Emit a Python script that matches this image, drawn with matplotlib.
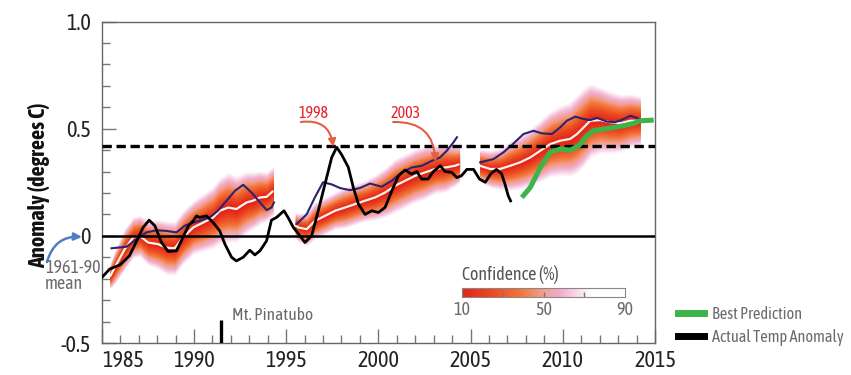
import numpy as np
import matplotlib
matplotlib.use("Agg")
import matplotlib.pyplot as plt
from matplotlib.colors import LinearSegmentedColormap, Normalize
from matplotlib.lines import Line2D

plt.rcParams["font.family"] = ["Asap Condensed", "Liberation Sans", "DejaVu Sans"]

# Observed global temperature anomaly (degrees C, vs 1961-90 mean)
obs_year = [1985.0, 1985.43, 1986.0, 1986.5, 1986.9, 1987.24, 1987.57, 1987.88, 1988.24, 1988.6,
            1989.05, 1989.4, 1989.7, 1989.96, 1990.14, 1990.3, 1990.68, 1991.04, 1991.4, 1991.68,
            1992.04, 1992.3, 1992.67, 1993.03, 1993.3, 1993.58, 1993.94, 1994.2, 1994.48, 1994.88,
            1995.1, 1995.39, 1995.75, 1996.02, 1996.38, 1996.74, 1997.1, 1997.47, 1997.74, 1998.0,
            1998.37, 1998.64, 1998.92, 1999.28, 1999.64, 2000.0, 2000.36, 2000.73, 2001.09, 2001.45,
            2001.8, 2002.08, 2002.35, 2002.7, 2002.98, 2003.35, 2003.62, 2003.98, 2004.25, 2004.5,
            2004.8, 2005.16, 2005.48, 2005.8, 2006.1, 2006.4, 2006.68, 2006.86, 2007.04, 2007.17]
obs_anom = [-0.195, -0.155, -0.135, -0.093, -0.023, 0.039, 0.073, 0.047, -0.031, -0.073,
            -0.07, -0.008, 0.047, 0.07, 0.093, 0.086, 0.093, 0.062, 0.023, -0.039,
            -0.10, -0.117, -0.10, -0.067, -0.089, -0.07, -0.023, 0.073, 0.086, 0.117,
            0.086, 0.039, 0.0, -0.031, 0.0, 0.117, 0.24, 0.366, 0.413, 0.38,
            0.32, 0.226, 0.148, 0.10, 0.117, 0.109, 0.132, 0.21, 0.28, 0.307,
            0.288, 0.30, 0.265, 0.265, 0.30, 0.327, 0.30, 0.296, 0.272, 0.28,
            0.31, 0.31, 0.265, 0.25, 0.29, 0.31, 0.29, 0.243, 0.187, 0.163]

# Hindcast runs without observed initial state (dark blue)
run1_year = [1985.53, 1986.34, 1986.88, 1987.42, 1987.97, 1988.5, 1989.05, 1989.5, 1989.96, 1990.3,
             1990.86, 1991.3, 1991.77, 1992.22, 1992.67, 1993.12, 1993.58, 1993.94, 1994.2, 1994.34]
run1_anom = [-0.058, -0.051, -0.016, 0.016, 0.026, 0.023, 0.016, 0.047, 0.062, 0.07,
             0.086, 0.117, 0.164, 0.21, 0.238, 0.202, 0.156, 0.12, 0.132, 0.156]
run2_year = [1995.57, 1996.11, 1996.56, 1997.0, 1997.47, 1997.92, 1998.46, 1999.0, 1999.55, 2000.18,
             2000.73, 2001.27, 2001.81, 2002.36, 2002.9, 2003.35, 2003.71, 2004.07, 2004.26]
run2_anom = [0.055, 0.10, 0.18, 0.25, 0.24, 0.223, 0.213, 0.223, 0.244, 0.229,
             0.257, 0.296, 0.319, 0.327, 0.35, 0.366, 0.397, 0.436, 0.46]
run3_year = [2005.52, 2006.24, 2006.79, 2007.33, 2007.87, 2008.41, 2008.87, 2009.41, 2009.86, 2010.22,
             2010.68, 2011.13, 2011.49, 2011.86, 2012.4, 2012.85, 2013.3, 2013.66, 2014.03, 2014.2]
run3_anom = [0.343, 0.358, 0.39, 0.431, 0.475, 0.49, 0.478, 0.475, 0.506, 0.537,
             0.556, 0.545, 0.54, 0.55, 0.533, 0.53, 0.545, 0.56, 0.55, 0.54]

# Initialised forecast ensembles: median and half-width of the spread
ens1_year = [1985.45, 1985.7, 1986.25, 1986.7, 1987.06, 1987.51, 1988.06, 1988.5, 1988.96, 1989.4,
             1989.96, 1990.5, 1991.04, 1991.4, 1991.86, 1992.3, 1992.86, 1993.2, 1993.58, 1993.94, 1994.3]
ens1_med = [-0.19, -0.148, -0.062, -0.008, 0.0, -0.031, -0.039, -0.055, -0.058, -0.008,
            0.039, 0.062, 0.086, 0.117, 0.132, 0.125, 0.156, 0.164, 0.179, 0.182, 0.21]
ens1_spread = [0.06, 0.08, 0.10, 0.10, 0.10, 0.11, 0.12, 0.13, 0.13, 0.13,
               0.13, 0.14, 0.15, 0.16, 0.17, 0.16, 0.15, 0.14, 0.13, 0.12, 0.12]
ens2_year = [1995.5, 1995.66, 1996.11, 1996.56, 1997.1, 1997.65, 1998.19, 1998.73, 1999.28, 1999.82,
             2000.36, 2000.91, 2001.45, 2001.99, 2002.53, 2003.08, 2003.62, 2004.16, 2004.4]
ens2_med = [0.05, 0.039, 0.031, 0.07, 0.093, 0.117, 0.132, 0.148, 0.164, 0.179,
            0.202, 0.234, 0.257, 0.28, 0.296, 0.312, 0.319, 0.327, 0.335]
ens2_spread = [0.06, 0.07, 0.08, 0.09, 0.09, 0.09, 0.10, 0.10, 0.10, 0.11,
               0.12, 0.13, 0.13, 0.13, 0.13, 0.12, 0.12, 0.10, 0.09]
ens3_year = [2005.5, 2006.06, 2006.6, 2007.15, 2007.69, 2008.24, 2008.78, 2009.32, 2009.86, 2010.4,
             2010.77, 2011.13, 2011.49, 2012.04, 2012.58, 2013.12, 2013.66, 2014.2]
ens3_med = [0.327, 0.312, 0.312, 0.327, 0.343, 0.366, 0.397, 0.428, 0.444, 0.452,
            0.475, 0.506, 0.537, 0.54, 0.53, 0.525, 0.537, 0.537]
ens3_spread = [0.08, 0.09, 0.10, 0.12, 0.13, 0.14, 0.15, 0.16, 0.17, 0.18,
               0.19, 0.19, 0.18, 0.16, 0.15, 0.14, 0.13, 0.12]

# Best prediction (green)
best_year = [2007.78, 2008.24, 2008.78, 2009.32, 2009.86, 2010.4, 2010.86, 2011.31, 2011.67, 2012.22,
             2012.76, 2013.3, 2013.85, 2014.2, 2014.93]
best_anom = [0.179, 0.226, 0.319, 0.39, 0.405, 0.40, 0.42, 0.467, 0.49, 0.498,
             0.506, 0.514, 0.525, 0.537, 0.54]

peak_1998 = 0.42
pinatubo_year = 1991.45
year_ticks = [1985, 1990, 1995, 2000, 2005, 2010, 2015]
anom_ticks = [-0.5, 0, 0.5, 1.0]
anom_labels = ["-0.5", "0", "0.5", "1.0"]
conf_ticks = [10, 50, 90]

GRAY = "#6b6b6b"
conf_cmap = LinearSegmentedColormap.from_list(
    "confidence",
    [(0.0, "#e2261b"), (0.2, "#ec4d22"), (0.36, "#f2763c"), (0.5, "#f3a08e"),
     (0.6, "#f0accd"), (0.72, "#fae0ec"), (0.8, "#ffffff"), (1.0, "#ffffff")])
conf_norm = Normalize(10, 90)

W, H = 851, 375
fig = plt.figure(figsize=(W / 100, H / 100), dpi=100)
fig.patch.set_facecolor("white")
ax = fig.add_axes([101.75 / W, 32 / H, (655 - 101.75) / W, 321.5 / H])

# Ensemble spread drawn as nested shaded bands
levels = np.linspace(74, 10, 22)
for yr, med, spr in [(ens1_year, ens1_med, ens1_spread),
                     (ens2_year, ens2_med, ens2_spread),
                     (ens3_year, ens3_med, ens3_spread)]:
    yr = np.asarray(yr)
    med = np.asarray(med)
    spr = np.asarray(spr)
    for c in levels:
        f = (c - 4) / 70
        ax.fill_between(yr, med - spr * f, med + spr * f, color=conf_cmap(conf_norm(c)),
                        lw=0, zorder=1)
    ax.plot(yr, med, color="#fff4e8", lw=1.6, zorder=2, solid_capstyle="butt")

for yr, an in [(run1_year, run1_anom), (run2_year, run2_anom), (run3_year, run3_anom)]:
    ax.plot(yr, an, color="#2c2273", lw=1.5, zorder=3)

ax.axhline(0, color="black", lw=1.8, zorder=4)
ax.axhline(peak_1998, color="black", lw=2.4, linestyle=(0, (2.8, 1.4)), zorder=4)
ax.plot(best_year, best_anom, color="#3cb44a", lw=3.6, zorder=5, solid_capstyle="butt")
ax.plot(obs_year, obs_anom, color="black", lw=2.0, zorder=6)

ax.vlines(pinatubo_year, -0.5, -0.395, color="black", lw=2.4, zorder=6)
ax.text(pinatubo_year + 0.6, -0.374, "Mt. Pinatubo", color=GRAY, fontsize=12.5, ha="left", va="center")

# Year callouts
for label, tx, ty, sx, sy, px, py in [("1998", 1996.46, 0.573, 1995.8, 0.531, 1997.55, 0.415),
                                      ("2003", 2001.5, 0.573, 2000.8, 0.531, 2003.08, 0.345)]:
    ax.text(tx, ty, label, color="#e8202a", fontsize=11.5, ha="center", va="center")
    ax.annotate("", xy=(px, py), xytext=(sx, sy),
                arrowprops=dict(arrowstyle="-|>,head_length=0.45,head_width=0.22",
                                connectionstyle="arc3,rad=-0.5", color="#e2603f", lw=1.5,
                                shrinkA=0, shrinkB=0), zorder=7)

ax.set_xlim(1985, 2015)
ax.set_ylim(-0.5, 1.0)
ax.set_xticks(year_ticks)
ax.set_xticks(np.arange(1985, 2016, 1), minor=True)
ax.set_xticklabels([str(y) for y in year_ticks])
ax.get_xticklabels()[0].set_horizontalalignment("left")
ax.set_yticks(anom_ticks)
ax.set_yticklabels(anom_labels)
ax.set_yticks(np.arange(-0.5, 1.01, 0.1), minor=True)
ax.tick_params(axis="both", which="major", direction="in", length=10, width=1, color="#777777",
               labelsize=16, labelcolor="#222222")
ax.tick_params(axis="x", which="major", pad=5)
ax.tick_params(axis="y", which="major", pad=8)
ax.tick_params(axis="both", which="minor", direction="in", length=5.5, width=1, color="#777777")
for sp in ax.spines.values():
    sp.set_color("#666666")
    sp.set_linewidth(1.0)
ax.set_ylabel("Anomaly (degrees C)", fontsize=16, fontweight="bold", color="#111111")
ax.yaxis.set_label_coords(-0.094, 0.49)

# Baseline note
fig.text(45 / W, 1 - 276 / H, "1961-90\nmean", color=GRAY, fontsize=13, ha="left", va="center",
         linespacing=0.85)
ax.annotate("", xy=(82, H - 237), xycoords="figure pixels", xytext=(47, H - 262),
            textcoords="figure pixels",
            arrowprops=dict(arrowstyle="-|>,head_length=0.45,head_width=0.22",
                            connectionstyle="arc3,rad=-0.4", color="#4f7fc0", lw=1.8,
                            shrinkA=0, shrinkB=0), annotation_clip=False)

# Confidence scale
cax = fig.add_axes([462 / W, (H - 297) / H, 163 / W, 9 / H])
grad = np.linspace(10, 90, 256)[None, :]
cax.imshow(grad, cmap=conf_cmap, norm=conf_norm, aspect="auto", extent=[10, 90, 0, 1])
cax.vlines([30, 50, 70], 0, 0.55, color="#777777", lw=1)
cax.set_xlim(10, 90)
cax.set_ylim(0, 1)
cax.set_yticks([])
cax.set_xticks(conf_ticks)
cax.set_xticklabels([str(c) for c in conf_ticks])
cax.tick_params(axis="x", length=0, pad=3, labelsize=13, labelcolor=GRAY)
for sp in cax.spines.values():
    sp.set_color("#888888")
    sp.set_linewidth(0.8)
fig.text(462 / W, 1 - 275 / H, "Confidence (%)", color="#555555", fontsize=13, ha="left", va="center")

handles = [Line2D([], [], color="#3cb44a", lw=5), Line2D([], [], color="black", lw=5)]
fig.legend(handles, ["Best Prediction", "Actual Temp Anomaly"], loc="upper left",
           bbox_to_anchor=(678 / W, 1 - 306 / H), frameon=False, fontsize=11.8,
           labelcolor=GRAY, handlelength=1.6, handletextpad=0.5, labelspacing=0.35,
           borderpad=0, borderaxespad=0)

fig.savefig("out.png", dpi=100, facecolor="white")
